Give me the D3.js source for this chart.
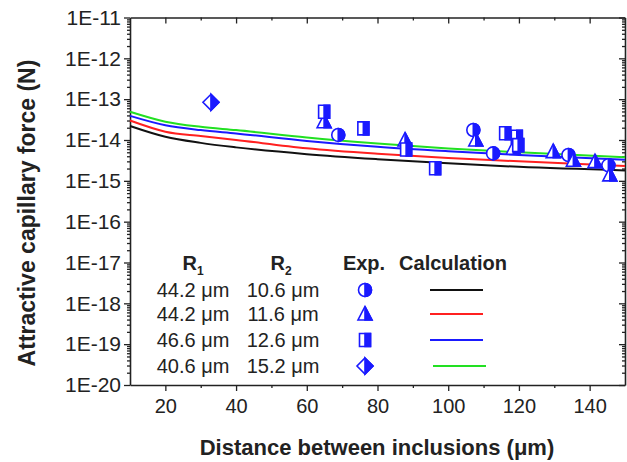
<!DOCTYPE html>
<html>
<head>
<meta charset="utf-8">
<script src="https://cdn.jsdelivr.net/npm/d3@7"></script>
<style>
  body { margin: 0; background: #fff; }
  svg { font-family: Arial, "Liberation Sans", sans-serif; }
  .axis path, .axis line { stroke: #222; }
  .axis text { font-size: 19px; fill: #222; }
</style>
</head>
<body>
<div id="chart"></div>
<script>
var width = 627, height = 462;

// calculated curves (distance in um, force in N)
var calcX = [10, 20, 30, 40, 60, 80, 100, 120, 150];
var calcBlack = [2.2e-14, 1.2e-14, 8.5e-15, 6.6e-15, 4.5e-15, 3.4e-15, 2.7e-15, 2.2e-15, 1.8e-15];
var calcRed = [3.0e-14, 1.6e-14, 1.25e-14, 1.0e-14, 6.3e-15, 4.6e-15, 3.6e-15, 3.0e-15, 2.3e-15];
var calcBlue = [3.9e-14, 2.3e-14, 1.75e-14, 1.45e-14, 9.5e-15, 6.8e-15, 5.3e-15, 4.3e-15, 3.3e-15];
var calcGreen = [4.9e-14, 2.8e-14, 2.1e-14, 1.75e-14, 1.15e-14, 8.2e-15, 6.2e-15, 5.0e-15, 3.8e-15];

// experimental points [distance, force]
var expCircle = [[68.9, 1.33e-14], [107.1, 1.76e-14], [112.7, 4.7e-15], [134.0, 4.3e-15], [145.3, 2.4e-15]];
var expTriangle = [[64.9, 2.8e-14], [87.8, 1.0e-14], [107.8, 1.0e-14], [118.4, 6.3e-15], [129.7, 5.2e-15],
                   [135.4, 3.2e-15], [141.5, 2.95e-15], [145.7, 1.4e-15]];
var expSquare = [[64.9, 4.9e-14], [76.0, 1.93e-14], [88.1, 5.85e-15], [96.3, 2.03e-15], [116.1, 1.46e-14],
                 [119.4, 1.2e-14], [119.8, 7.5e-15]];
var expDiamond = [[32.9, 8.4e-14]];

var xTicks = [20, 40, 60, 80, 100, 120, 140];
var yExponents = [-20, -19, -18, -17, -16, -15, -14, -13, -12, -11];

var legendR1 = ["44.2 \u03bcm", "44.2 \u03bcm", "46.6 \u03bcm", "40.6 \u03bcm"];
var legendR2 = ["10.6 \u03bcm", "11.6 \u03bcm", "12.6 \u03bcm", "15.2 \u03bcm"];
var legendShapes = ["circle", "triangle", "square", "diamond"];
var lineColors = ["#111111", "#ff2020", "#1a1aff", "#22e022"];
var markColor = "#1a1aff";

var plotLeft = 130, plotRight = 625, plotTop = 17.5, plotBottom = 385;

var svg = d3.select("div#chart")
    .append("svg")
      .attr("width", width)
      .attr("height", height);

var x = d3.scaleLinear().domain([10, 150]).range([plotLeft, plotRight]);
var y = d3.scaleLog().domain([1e-20, 1e-11]).range([plotBottom, plotTop]);

var majorY = yExponents.map(function(e) { return Math.pow(10, e); });
var minorY = [];
yExponents.slice(0, -1).forEach(function(e) {
  for (var k = 2; k <= 9; k++) minorY.push(k * Math.pow(10, e));
});
var minorX = [30, 50, 70, 90, 110, 130];

// left axis
svg.append("g").attr("class", "axis")
    .attr("transform", "translate(" + plotLeft + ",0)")
    .call(d3.axisLeft(y).tickValues(majorY).tickSize(6).tickSizeOuter(0)
      .tickFormat(function(d) { return "1E" + Math.round(Math.log10(d)); }))
    .call(function(g) { g.selectAll("text").attr("x", -9).style("font-size", "21px"); });
svg.append("g").attr("class", "axis")
    .attr("transform", "translate(" + plotLeft + ",0)")
    .call(d3.axisLeft(y).tickValues(minorY).tickSize(3).tickSizeOuter(0).tickFormat(""))
    .call(function(g) { g.select(".domain").remove(); });

// right axis (inward ticks)
svg.append("g").attr("class", "axis")
    .attr("transform", "translate(" + plotRight + ",0)")
    .call(d3.axisLeft(y).tickValues(majorY).tickSize(6).tickSizeOuter(0).tickFormat(""));
svg.append("g").attr("class", "axis")
    .attr("transform", "translate(" + plotRight + ",0)")
    .call(d3.axisLeft(y).tickValues(minorY).tickSize(3).tickSizeOuter(0).tickFormat(""))
    .call(function(g) { g.select(".domain").remove(); });

// bottom axis
svg.append("g").attr("class", "axis")
    .attr("transform", "translate(0," + plotBottom + ")")
    .call(d3.axisBottom(x).tickValues(xTicks).tickSize(6).tickSizeOuter(0))
    .call(function(g) { g.selectAll("text").attr("y", 14).style("font-size", "20px"); });
svg.append("g").attr("class", "axis")
    .attr("transform", "translate(0," + plotBottom + ")")
    .call(d3.axisBottom(x).tickValues(minorX).tickSize(3).tickSizeOuter(0).tickFormat(""))
    .call(function(g) { g.select(".domain").remove(); });

// top axis (inward ticks)
svg.append("g").attr("class", "axis")
    .attr("transform", "translate(0," + plotTop + ")")
    .call(d3.axisBottom(x).tickValues(xTicks).tickSize(6).tickSizeOuter(0).tickFormat(""));
svg.append("g").attr("class", "axis")
    .attr("transform", "translate(0," + plotTop + ")")
    .call(d3.axisBottom(x).tickValues(minorX).tickSize(3).tickSizeOuter(0).tickFormat(""))
    .call(function(g) { g.select(".domain").remove(); });

svg.selectAll(".axis .domain").attr("stroke-width", 1.6);
svg.selectAll(".axis line").attr("stroke-width", 1.3);

// axis titles
svg.append("text")
    .attr("x", 377).attr("y", 455)
    .attr("text-anchor", "middle")
    .style("font-size", "22px").style("font-weight", "bold").style("fill", "#222")
    .text("Distance between inclusions (\u03bcm)");

svg.append("text")
    .attr("transform", "translate(35,213) rotate(-90)")
    .attr("text-anchor", "middle")
    .style("font-size", "23px").style("font-weight", "bold").style("fill", "#222")
    .text("Attractive capillary force (N)");

// calculated lines
var line = d3.line()
    .x(function(d) { return x(d[0]); })
    .y(function(d) { return y(d[1]); })
    .curve(d3.curveMonotoneX);

[calcBlack, calcRed, calcBlue, calcGreen].forEach(function(vals, i) {
  svg.append("path")
      .datum(calcX.map(function(v, j) { return [v, vals[j]]; }))
      .attr("fill", "none")
      .attr("stroke", lineColors[i])
      .attr("stroke-width", 2)
      .attr("d", line);
});

// half filled markers
function drawMarker(g, shape) {
  var full, half;
  if (shape == "circle") {
    full = "M0,-6.5A6.5,6.5 0 1,1 0,6.5A6.5,6.5 0 1,1 0,-6.5Z";
    half = "M0,-6.5A6.5,6.5 0 0,1 0,6.5Z";
  } else if (shape == "triangle") {
    full = "M0,-7.5L7,6L-7,6Z";
    half = "M0,-7.5L7,6L0,6Z";
  } else if (shape == "square") {
    full = "M-5.5,-6.5H5.5V6.5H-5.5Z";
    half = "M0,-6.5H5.5V6.5H0Z";
  } else {
    full = "M0,-8L8,0L0,8L-8,0Z";
    half = "M0,-8L8,0L0,8Z";
  }
  g.append("path").attr("d", full).attr("fill", "#fff")
      .attr("stroke", markColor).attr("stroke-width", 1.6);
  g.append("path").attr("d", half).attr("fill", markColor)
      .attr("stroke", markColor).attr("stroke-width", 1.6);
}

[expCircle, expTriangle, expSquare, expDiamond].forEach(function(pts, i) {
  svg.append("g").selectAll("g")
    .data(pts)
    .enter().append("g")
      .attr("transform", function(d) { return "translate(" + x(d[0]) + "," + y(d[1]) + ")"; })
      .each(function() { drawMarker(d3.select(this), legendShapes[i]); });
});

// legend
var legend = svg.append("g").style("fill", "#222");
var headY = 270, rowY = [297, 321, 347, 373];

var r1 = legend.append("text").attr("x", 193).attr("y", headY).attr("text-anchor", "middle")
    .style("font-size", "20px").style("font-weight", "bold");
r1.append("tspan").text("R");
r1.append("tspan").attr("dy", 5).style("font-size", "12px").text("1");

var r2 = legend.append("text").attr("x", 281).attr("y", headY).attr("text-anchor", "middle")
    .style("font-size", "20px").style("font-weight", "bold");
r2.append("tspan").text("R");
r2.append("tspan").attr("dy", 5).style("font-size", "12px").text("2");

legend.append("text").attr("x", 364).attr("y", headY).attr("text-anchor", "middle")
    .style("font-size", "20px").style("font-weight", "bold").text("Exp.");
legend.append("text").attr("x", 453).attr("y", headY).attr("text-anchor", "middle")
    .style("font-size", "20px").style("font-weight", "bold").text("Calculation");

legendR1.forEach(function(t, i) {
  legend.append("text").attr("x", 193).attr("y", rowY[i]).attr("text-anchor", "middle")
      .style("font-size", "20px").text(t);
  legend.append("text").attr("x", 283).attr("y", rowY[i]).attr("text-anchor", "middle")
      .style("font-size", "20px").text(legendR2[i]);
  drawMarker(legend.append("g").attr("transform", "translate(365," + (rowY[i] - 7) + ")"), legendShapes[i]);
  legend.append("line")
      .attr("x1", 430 + (i == 3 ? 3 : 0)).attr("x2", 483 + (i == 3 ? 3 : 0))
      .attr("y1", rowY[i] - 7).attr("y2", rowY[i] - 7)
      .attr("stroke", lineColors[i]).attr("stroke-width", 2);
});
</script>
</body>
</html>
